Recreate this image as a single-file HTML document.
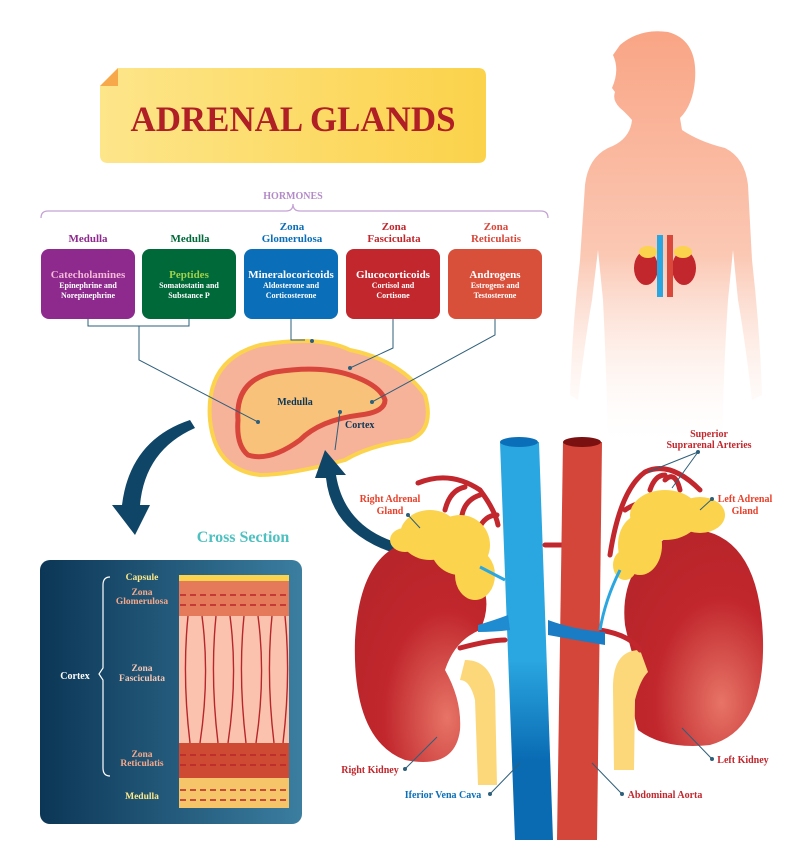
<!DOCTYPE html>
<html><head><meta charset="utf-8"><style>
html,body{margin:0;padding:0;background:#fff}
svg{display:block}
text{font-family:"Liberation Serif",serif;font-weight:bold}
</style></head><body>
<svg width="800" height="868" viewBox="0 0 800 868" xmlns="http://www.w3.org/2000/svg">
<defs>
<linearGradient id="body" x1="0" y1="0" x2="0" y2="1"><stop offset="0" stop-color="#f9a585"/><stop offset="0.55" stop-color="#fbc8b4"/><stop offset="1" stop-color="#fff" stop-opacity="0.2"/></linearGradient>
<linearGradient id="panel" x1="0" y1="0" x2="1" y2="0"><stop offset="0" stop-color="#0c3656"/><stop offset="1" stop-color="#3b7ea0"/></linearGradient>
<linearGradient id="vc" x1="0" y1="0" x2="0" y2="1"><stop offset="0" stop-color="#2aa6e0"/><stop offset="0.55" stop-color="#2aa6e0"/><stop offset="0.8" stop-color="#0a6bb3"/></linearGradient>
<radialGradient id="kid" cx="0.7" cy="0.8" r="0.8"><stop offset="0" stop-color="#e77466"/><stop offset="0.6" stop-color="#c1272d"/><stop offset="1" stop-color="#b8252a"/></radialGradient>
<linearGradient id="ban" x1="0" y1="0" x2="1" y2="0"><stop offset="0" stop-color="#fde58a"/><stop offset="1" stop-color="#fbd24a"/></linearGradient>
</defs>

<!-- human silhouette -->
<path fill="url(#body)" d="M620 45 Q640 28 668 32 Q698 40 695 80 Q693 105 680 118 L682 130 Q700 142 725 148 Q745 158 748 185 L752 260 Q760 330 762 395 L752 400 Q745 340 738 300 L733 250 L728 300 Q724 360 722 440 L608 440 Q606 360 603 300 L598 250 L592 300 Q585 340 578 400 L570 395 Q572 330 580 260 L585 185 Q588 158 608 148 Q630 140 632 120 Q625 112 620 108 Q612 100 615 92 L612 88 Q620 70 613 55 Z"/>
<g>
<ellipse cx="646" cy="268" rx="12" ry="17" fill="#c1272d"/>
<ellipse cx="684" cy="268" rx="12" ry="17" fill="#c1272d"/>
<ellipse cx="648" cy="252" rx="9" ry="6" fill="#fcd34d"/>
<ellipse cx="683" cy="252" rx="9" ry="6" fill="#fcd34d"/>
<rect x="657" y="235" width="6" height="62" fill="#2aa6e0"/>
<rect x="667" y="235" width="6" height="62" fill="#d9483a"/>
</g>

<!-- banner -->
<path d="M118 68 L478 68 Q486 68 486 76 L486 155 Q486 163 478 163 L108 163 Q100 163 100 155 L100 86 Z" fill="url(#ban)"/>
<path d="M100 86 L118 68 L118 86 Z" fill="#f6a84a"/>
<text x="293" y="131" font-size="36" fill="#b01e26" text-anchor="middle" textLength="325" lengthAdjust="spacingAndGlyphs">ADRENAL GLANDS</text>

<!-- hormones -->
<text x="293" y="199" font-size="10" fill="#b38ac8" text-anchor="middle">HORMONES</text>
<path d="M41 218 Q41 211 48 211 L286 211 Q293 211 293 204 Q293 211 300 211 L541 211 Q548 211 548 218" fill="none" stroke="#c5a2d5" stroke-width="1.3"/>
<g font-size="11" text-anchor="middle">
<text x="88" y="242" fill="#8e2a8e">Medulla</text>
<text x="190" y="242" fill="#00693a">Medulla</text>
<text x="292" y="230" fill="#0a6fb8">Zona</text><text x="292" y="242" fill="#0a6fb8">Glomerulosa</text>
<text x="394" y="230" fill="#c1272d">Zona</text><text x="394" y="242" fill="#c1272d">Fasciculata</text>
<text x="496" y="230" fill="#d9483a">Zona</text><text x="496" y="242" fill="#d9483a">Reticulatis</text>
</g>
<rect x="41" y="249" width="94" height="70" rx="8" fill="#8e2a8e"/>
<rect x="142" y="249" width="94" height="70" rx="8" fill="#00693a"/>
<rect x="244" y="249" width="94" height="70" rx="8" fill="#0a6fb8"/>
<rect x="346" y="249" width="94" height="70" rx="8" fill="#c1272d"/>
<rect x="448" y="249" width="94" height="70" rx="8" fill="#d9503a"/>
<g text-anchor="middle" fill="#fff">
<text x="88" y="278" font-size="11" fill="#f4b8d8">Catecholamines</text>
<text x="88" y="288" font-size="8">Epinephrine and</text><text x="88" y="298" font-size="8">Norepinephrine</text>
<text x="189" y="278" font-size="11" fill="#9ed04a">Peptides</text>
<text x="189" y="288" font-size="8">Somatostatin and</text><text x="189" y="298" font-size="8">Substance P</text>
<text x="291" y="278" font-size="11">Mineralocoricoids</text>
<text x="291" y="288" font-size="8">Aldosterone and</text><text x="291" y="298" font-size="8">Corticosterone</text>
<text x="393" y="278" font-size="11">Glucocorticoids</text>
<text x="393" y="288" font-size="8">Cortisol and</text><text x="393" y="298" font-size="8">Cortisone</text>
<text x="495" y="278" font-size="11">Androgens</text>
<text x="495" y="288" font-size="8">Estrogens and</text><text x="495" y="298" font-size="8">Testosterone</text>
</g>

<!-- cross-section gland -->
<path d="M210 420 Q205 360 260 345 Q320 335 350 350 Q400 360 425 395 Q435 430 410 440 Q370 445 345 460 Q290 475 260 475 Q215 470 210 420Z" fill="#f6b39a" stroke="#fcd34d" stroke-width="4"/>
<path d="M238 420 Q235 380 275 372 Q320 365 350 375 Q380 385 385 400 Q385 412 360 415 Q320 420 300 440 Q270 462 248 455 Q236 445 238 420Z" fill="#f9c27a" stroke="#d8453a" stroke-width="5"/>
<text x="295" y="405" font-size="10" fill="#0c3656" text-anchor="middle">Medulla</text>
<text x="345" y="428" font-size="10" fill="#0c3656">Cortex</text>
<g stroke="#2e5f7a" stroke-width="1" fill="none">
<path d="M88 319 V326 H189 V319 M139 326 V360 L258 422"/>
<path d="M291 319 V340 L305 340"/>
<path d="M393 319 V348 L350 368"/>
<path d="M495 319 V335 L372 402"/>
<path d="M340 412 L335 450"/>
</g>
<g fill="#2e5f7a"><circle cx="258" cy="422" r="2"/><circle cx="312" cy="341" r="2"/><circle cx="350" cy="368" r="2"/><circle cx="372" cy="402" r="2"/><circle cx="340" cy="412" r="2"/></g>
<!-- arrows -->
<path d="M190 420 Q130 440 122 505 L112 505 L135 535 L150 505 L140 505 Q145 450 195 428Z" fill="#0f4566"/>
<path d="M405 545 Q345 530 336 475 L346 475 L325 450 L315 478 L326 478 Q332 535 400 555Z" fill="#0f4566"/>
<text x="243" y="542" font-size="16" fill="#4ec0c0" text-anchor="middle">Cross Section</text>

<!-- panel -->
<rect x="40" y="560" width="262" height="264" rx="10" fill="url(#panel)"/>
<path d="M110 577 Q103 577 103 585 L103 668 L99 674 L103 680 L103 768 Q103 776 110 776" fill="none" stroke="#fff" stroke-width="1.2"/>
<text x="75" y="679" font-size="10" fill="#fff" text-anchor="middle">Cortex</text>
<g font-size="9.5" text-anchor="middle">
<text x="142" y="580" fill="#fce98a">Capsule</text>
<text x="142" y="595" fill="#f6a98a">Zona</text><text x="142" y="604" fill="#f6a98a">Glomerulosa</text>
<text x="142" y="671" fill="#f6c7b4">Zona</text><text x="142" y="681" fill="#f6c7b4">Fasciculata</text>
<text x="142" y="757" fill="#f6a98a">Zona</text><text x="142" y="766" fill="#f6a98a">Reticulatis</text>
<text x="142" y="799" fill="#fce98a">Medulla</text>
</g>
<rect x="179" y="575" width="110" height="6" fill="#fcd34d"/>
<rect x="179" y="581" width="110" height="35" fill="#e57a5a"/>
<rect x="179" y="616" width="110" height="127" fill="#fbc3ad"/>
<rect x="179" y="743" width="110" height="35" fill="#cf4a32"/>
<rect x="179" y="778" width="110" height="30" fill="#f6c56a"/>
<g stroke="#b8252a" stroke-width="1.4" fill="none">
<path d="M188 616 q-6 60 2 127 M202 616 q8 60 -2 127 M216 616 q-6 60 2 127 M230 616 q8 60 -2 127 M244 616 q-6 60 2 127 M258 616 q8 60 -2 127 M272 616 q-6 60 2 127 M285 616 q6 60 -2 127"/>
<path d="M180 595 h108 M180 605 h108 M180 755 h108 M180 765 h108 M180 790 h108 M180 800 h108" stroke-dasharray="6 4"/>
</g>

<!-- kidneys -->
<path d="M420 540 Q360 545 355 640 Q352 740 405 760 Q455 770 460 730 Q462 700 445 670 Q455 640 480 630 Q495 600 475 570 Q455 540 420 540Z" fill="url(#kid)"/>
<path d="M700 530 Q760 540 763 640 Q765 730 710 745 Q665 750 638 730 Q628 700 640 675 Q630 650 625 625 Q620 580 650 550 Q675 528 700 530Z" fill="url(#kid)"/>
<path d="M465 660 Q490 660 495 690 L497 785 L478 785 L475 700 Q470 680 460 680Z" fill="#fcd87a"/>
<path d="M640 650 Q612 650 613 690 L614 770 L634 770 L635 700 Q640 680 648 672Z" fill="#fcd87a"/>
<g stroke="#c1272d" stroke-width="5" fill="none" stroke-linecap="round">
<path d="M418 483 Q450 470 480 490 Q495 510 498 525"/>
<path d="M445 510 Q450 490 465 487 M462 515 Q465 500 480 495 M478 530 Q485 515 497 515"/>
<path d="M610 555 Q620 490 645 472 Q670 460 700 490"/>
<path d="M650 490 Q655 475 665 475 M665 480 Q675 470 680 490 M625 510 Q640 500 648 505"/>
<path d="M545 545 L565 545"/>
<path d="M460 648 Q490 640 505 640 M600 630 Q630 635 640 650"/>
</g>
<g fill="#fcd34d">
<ellipse cx="430" cy="535" rx="30" ry="25"/><ellipse cx="460" cy="545" rx="30" ry="30"/><ellipse cx="475" cy="575" rx="20" ry="25"/><ellipse cx="405" cy="540" rx="15" ry="12"/>
<ellipse cx="665" cy="515" rx="35" ry="25"/><ellipse cx="700" cy="515" rx="25" ry="18"/><ellipse cx="640" cy="545" rx="22" ry="30"/><ellipse cx="625" cy="565" rx="12" ry="15"/>
</g>
<path d="M500 442 L539 442 L553 840 L515 840Z" fill="url(#vc)"/>
<ellipse cx="519" cy="442" rx="19" ry="5" fill="#0a6fb8"/>
<path d="M563 442 L602 442 L597 840 L557 840Z" fill="#d4453a"/>
<ellipse cx="582" cy="442" rx="19" ry="5" fill="#7a1010"/>
<path d="M478 625 Q495 620 508 615 L510 630 Q495 632 478 632Z" fill="#1f8bd0"/>
<path d="M548 620 Q575 630 605 632 L605 645 Q575 640 548 635Z" fill="#1a7cc4"/>
<path d="M480 567 L505 580" stroke="#2aa6e0" stroke-width="3"/>
<path d="M600 630 Q605 600 620 570" stroke="#2aa6e0" stroke-width="3" fill="none"/>
<g font-size="10" text-anchor="middle">
<text x="709" y="437" fill="#c1272d">Superior</text>
<text x="709" y="448" fill="#c1272d">Suprarenal Arteries</text>
<text x="390" y="502" fill="#e8402a">Right Adrenal</text><text x="390" y="514" fill="#e8402a">Gland</text>
<text x="745" y="502" fill="#e8402a">Left Adrenal</text><text x="745" y="514" fill="#e8402a">Gland</text>
<text x="370" y="773" fill="#c1272d">Right Kidney</text>
<text x="743" y="763" fill="#c1272d">Left Kidney</text>
<text x="443" y="798" fill="#0a6fb8">Iferior Vena Cava</text>
<text x="665" y="798" fill="#c1272d">Abdominal Aorta</text>
</g>
<g stroke="#2e5f7a" stroke-width="1" fill="none">
<path d="M648 472 L698 452 L672 488"/>
<path d="M408 515 L420 528"/><path d="M712 499 L700 510"/>
<path d="M405 769 L437 737"/><path d="M712 759 L682 728"/>
<path d="M490 794 L520 763"/><path d="M622 794 L592 763"/>
</g>
<g fill="#2e5f7a"><circle cx="698" cy="452" r="2"/><circle cx="408" cy="515" r="2"/><circle cx="712" cy="499" r="2"/><circle cx="405" cy="769" r="2"/><circle cx="712" cy="759" r="2"/><circle cx="490" cy="794" r="2"/><circle cx="622" cy="794" r="2"/></g>
</svg>
</body></html>
